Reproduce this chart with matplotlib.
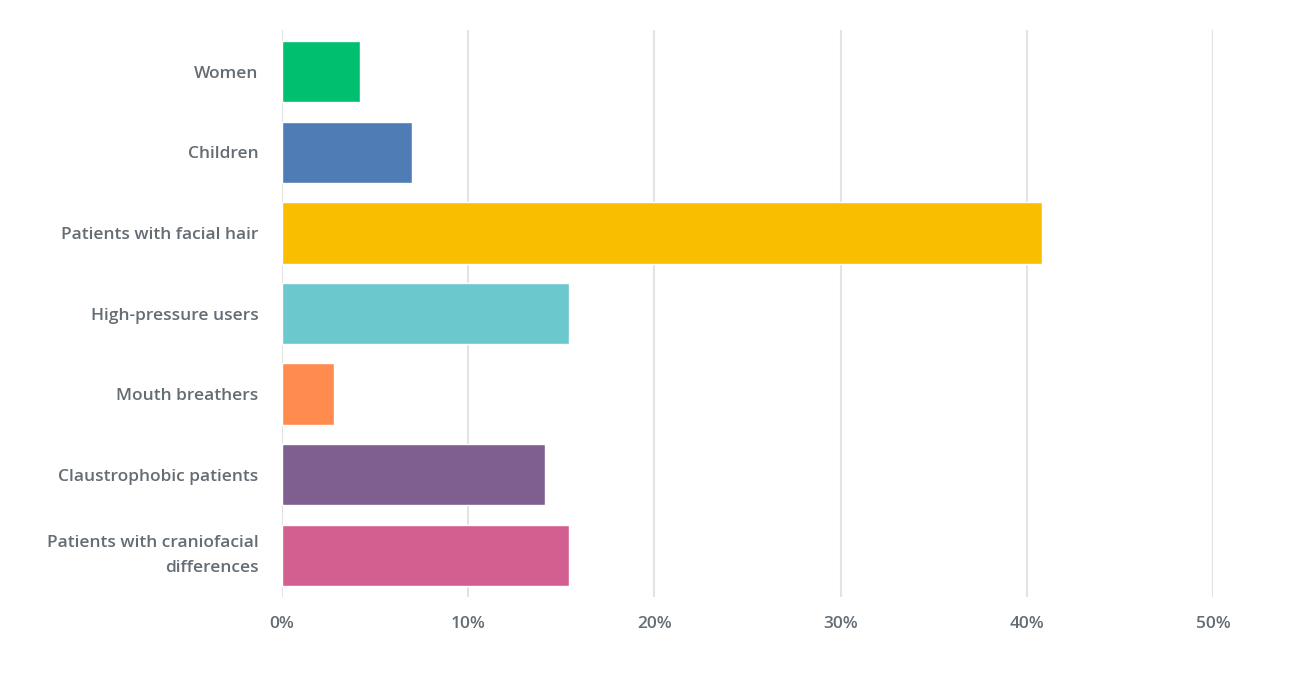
import matplotlib
matplotlib.use("Agg")
import matplotlib.pyplot as plt
from matplotlib.ticker import FuncFormatter

categories = ["Women", "Children", "Patients with facial hair", "High-pressure users",
              "Mouth breathers", "Claustrophobic patients",
              "Patients with craniofacial\ndifferences"]
values = [4.2, 7.0, 40.8, 15.4, 2.8, 14.1, 15.4]
colors = ["#00bf6f", "#507cb6", "#f9be00", "#6bc8cd", "#ff8b4f", "#7f5f90", "#d25f90"]
xticks = [0, 10, 20, 30, 40, 50]

plt.rcParams['font.family'] = ['Open Sans', 'DejaVu Sans']
text_color = "#646c74"

fig = plt.figure(figsize=(12.96, 6.74), dpi=100)
ax = fig.add_axes([0.2176, 0.1142, 0.936 - 0.2176, 0.9555 - 0.1142])

y = list(range(len(categories)))
ax.barh(y, values, height=0.76, color=colors, edgecolor="white", linewidth=1.0, zorder=3)

ax.set_xlim(0, 50)
ax.set_ylim(6.52, -0.52)
ax.set_xticks(xticks)
ax.xaxis.set_major_formatter(FuncFormatter(lambda v, p: f"{int(v)}%"))
ax.set_yticks(y)
ax.set_yticklabels(categories, ha="right", linespacing=1.75)
ax.grid(axis="x", color="#e3e3e3", linewidth=1.5, zorder=0)
for s in ax.spines.values():
    s.set_visible(False)
ax.tick_params(axis="both", length=0, labelcolor=text_color, labelsize=12.5)
ax.tick_params(axis="y", pad=17)
ax.tick_params(axis="x", pad=14)
for lab in ax.get_xticklabels() + ax.get_yticklabels():
    lab.set_fontweight("semibold")
ax.get_yticklabels()[-1].set_va("center")

fig.savefig("out.png", dpi=100, facecolor="white")
